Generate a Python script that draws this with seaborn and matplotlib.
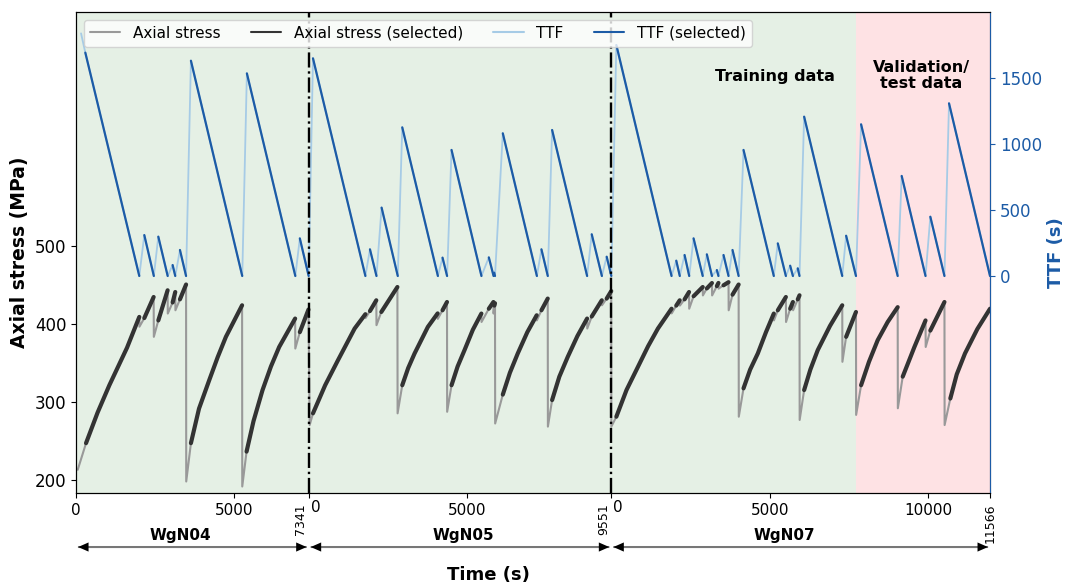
import numpy as np
import pandas as pd
import matplotlib
matplotlib.use('Agg')
import matplotlib.pyplot as plt
import seaborn as sns
from matplotlib.lines import Line2D
from matplotlib.transforms import blended_transform_factory

# Experiments laid end to end on one time axis
experiments = ['WgN04', 'WgN05', 'WgN07']
exp_lengths = [7341, 9551, 11950]
exp_length_labels = ['7341', '9551', '11566']
validation_start = 7720  # local time in WgN07

# Axial stress vertices: time (s), stress (MPa), cycle id (-1 = not selected)
wgn04_stress_t = [53, 315, 680, 1051, 1608, 1996,
                  2001, 2154, 2449,
                  2455, 2596, 2890,
                  2895, 3048, 3131,
                  3136, 3279, 3472,
                  3477, 3625, 3880, 4204, 4470, 4729, 5240,
                  5245, 5381, 5600, 5885, 6150, 6410, 6914,
                  6919, 7062, 7335]
wgn04_stress = [213.7, 247.8, 287, 322, 370, 409.5,
                397, 408, 435,
                384, 405, 443.6,
                413.8, 428, 441.4,
                418, 432, 451,
                198.7, 247.8, 292, 328.6, 358, 384, 424.4,
                192.3, 237, 276, 315.8, 346, 371, 407.4,
                369, 390, 419]
wgn04_stress_cycle = [-1, 0, 0, 0, 0, 0,
                      -1, 1, 1,
                      -1, 2, 2,
                      -1, 3, 3,
                      -1, 4, 4,
                      -1, 5, 5, 5, 5, 5, 5,
                      -1, 6, 6, 6, 6, 6, 6,
                      -1, 7, 7]

wgn05_stress_t = [32, 136, 520, 924, 1450, 1790,
                  1795, 1934, 2134,
                  2140, 2292, 2800,
                  2806, 2953, 3140, 3342, 3761, 4070,
                  4075, 4224, 4365,
                  4370, 4508, 4700, 4918, 5180, 5450,
                  5455, 5685, 5830,
                  5835, 5860, 5880,
                  5885, 6126, 6350, 6598, 6900, 7195,
                  7200, 7345, 7544,
                  7549, 7682, 7910, 8176, 8480, 8786,
                  8791, 8932, 9250,
                  9255, 9404, 9548]
wgn05_stress = [271, 286, 322, 354, 394.6, 413,
                408, 417, 430.8,
                398.9, 415.8, 447.8,
                286, 322, 344, 362.7, 396.7, 414,
                407, 418, 428.6,
                288, 322, 346, 367, 393, 413.8,
                403, 420, 428.6,
                413.8, 424, 427,
                273, 310, 338, 362.7, 390, 411.6,
                405, 418, 433,
                269, 303, 333, 358.4, 385, 407.4,
                394.6, 410, 430.8,
                424.4, 433, 442.6]
wgn05_stress_cycle = [-1, 0, 0, 0, 0, 0,
                      -1, 1, 1,
                      -1, 2, 2,
                      -1, 3, 3, 3, 3, 3,
                      -1, 4, 4,
                      -1, 5, 5, 5, 5, 5,
                      -1, 6, 6,
                      -1, 7, 7,
                      -1, 8, 8, 8, 8, 8,
                      -1, 9, 9,
                      -1, 10, 10, 10, 10, 10,
                      -1, 11, 11,
                      -1, 12, 12]

wgn07_stress_t = [0, 158, 480, 840, 1160, 1470, 1900,
                  1905, 2049, 2158,
                  2163, 2311, 2452,
                  2457, 2595, 2884,
                  2889, 3014, 3175,
                  3180, 3330, 3380,
                  3385, 3540, 3698,
                  3703, 3824, 4017,
                  4022, 4171, 4380, 4622, 4880, 5127,
                  5132, 5253, 5508,
                  5513, 5643, 5730,
                  5735, 5883, 5938,
                  5943, 6084, 6280, 6514, 6900, 7287,
                  7292, 7409, 7720,
                  7725, 7881, 8130, 8405, 8720, 9036,
                  9041, 9195, 9564, 9915,
                  9920, 10066, 10512,
                  10517, 10697, 10900, 11160, 11550, 11950]
wgn07_stress = [269, 281.7, 316, 345.6, 372, 394.6, 420,
                414, 424, 430.8,
                424, 432, 441.4,
                420, 436, 447.8,
                437, 446, 452.9,
                437, 449, 453,
                445.7, 450, 454,
                418, 438, 451,
                281.7, 318, 342, 362.7, 390, 413.8,
                405, 418, 435,
                403, 420, 428.6,
                418, 432, 437.2,
                277.5, 315.8, 342, 367, 398, 424.4,
                352, 384, 415.8,
                284, 322, 352, 379.7, 403, 422,
                292.5, 333, 371, 405,
                371, 392, 428.6,
                271, 305, 336, 362.7, 394, 420]
wgn07_stress_cycle = [-1, 0, 0, 0, 0, 0, 0,
                      -1, 1, 1,
                      -1, 2, 2,
                      -1, 3, 3,
                      -1, 4, 4,
                      -1, 5, 5,
                      -1, 6, 6,
                      -1, 7, 7,
                      -1, 8, 8, 8, 8, 8,
                      -1, 9, 9,
                      -1, 10, 10,
                      -1, 11, 11,
                      -1, 12, 12, 12, 12, 12,
                      -1, 13, 13,
                      -1, 14, 14, 14, 14, 14,
                      -1, 15, 15, 15,
                      -1, 16, 16,
                      -1, 17, 17, 17, 17, 17]

# Time to failure vertices: time (s), TTF (s), cycle id (-1 = not selected)
wgn04_ttf_t = [158, 293, 1996, 2154, 2455, 2596, 2892, 3048, 3131, 3279, 3472, 3625, 5245,
               5391, 6920, 7062, 7341]
wgn04_ttf = [1838, 1692, 0, 310, 0, 298, 0, 83, 0, 197, 0, 1631, 0, 1535, 0, 285, 0]
wgn04_ttf_cycle = [-1, 0, 0, 1, 1, 2, 2, 3, 3, 4, 4, 5, 5, 6, 6, 7, 7]

wgn05_ttf_t = [136, 1790, 1934, 2140, 2301, 2812, 2953, 4078, 4224, 4368, 4508, 5452, 5685, 5835,
               5855, 5880, 6126, 7202, 7345, 7546, 7682, 8787, 8932, 9253, 9404, 9551]
wgn05_ttf = [1649, 0, 202, 0, 518, 0, 1126, 0, 139, 0, 955, 0, 141, 0,
             25, 0, 1081, 0, 202, 0, 1106, 0, 316, 0, 146, 0]
wgn05_ttf_cycle = [0, 0, 1, 1, 2, 2, 3, 3, 4, 4, 5, 5, 6, 6,
                   7, 7, 8, 8, 9, 9, 10, 10, 11, 11, 12, 12]

wgn07_ttf_t = [158, 1900, 2049, 2160, 2311, 2458, 2595, 2884, 3014, 3175, 3330, 3380, 3540, 3698,
               3824, 4017, 4171, 5127, 5253, 5508, 5643, 5730, 5883, 5938, 6084, 7287, 7409,
               7720, 7881, 9036, 9162, 9915, 10066, 10512, 10656, 11950]
wgn07_ttf = [1750, 0, 116, 0, 159, 0, 285, 0, 164, 0, 45, 0, 159, 0,
             197, 0, 955, 0, 247, 0, 78, 0, 58, 0, 1207, 0, 305,
             0, 1149, 0, 758, 0, 449, 0, 1308, 0]
wgn07_ttf_cycle = [0, 0, 1, 1, 2, 2, 3, 3, 4, 4, 5, 5, 6, 6,
                   7, 7, 8, 8, 9, 9, 10, 10, 11, 11, 12, 12, 13,
                   13, 14, 14, 15, 15, 16, 16, 17, 17]

stress_data = [(wgn04_stress_t, wgn04_stress, wgn04_stress_cycle),
               (wgn05_stress_t, wgn05_stress, wgn05_stress_cycle),
               (wgn07_stress_t, wgn07_stress, wgn07_stress_cycle)]
ttf_data = [(wgn04_ttf_t, wgn04_ttf, wgn04_ttf_cycle),
            (wgn05_ttf_t, wgn05_ttf, wgn05_ttf_cycle),
            (wgn07_ttf_t, wgn07_ttf, wgn07_ttf_cycle)]

offsets = np.concatenate([[0], np.cumsum(exp_lengths)[:-1]])
x_end = sum(exp_lengths)


def build_frame(series):
    """Stack the three experiments on a global time axis."""
    frames = []
    for name, offset, (t, v, cyc) in zip(experiments, offsets, series):
        df = pd.DataFrame({'time': np.array(t) + offset, 'value': v, 'cycle': cyc})
        df['unit'] = name + '_' + df['cycle'].astype(str)
        frames.append(df)
    return pd.concat(frames, ignore_index=True)


stress_df = build_frame(stress_data)
ttf_df = build_frame(ttf_data)

c_stress = '#999999'
c_stress_sel = '#333333'
c_ttf = '#a6cbe6'
c_ttf_sel = '#1c5ba6'

sns.set_style('ticks')
plt.rcParams['font.family'] = ['DejaVu Sans']
plt.rcParams.update({'text.color': 'black', 'axes.labelcolor': 'black',
                     'xtick.color': 'black', 'ytick.color': 'black',
                     'axes.edgecolor': 'black'})

fig = plt.figure(figsize=(10.65, 5.83), dpi=100)
ax = fig.add_axes([0.0714, 0.1544, 0.8582, 0.825])
ax2 = ax.twinx()

# Background regions
ax.axvspan(0, offsets[2] + validation_start, color='#e5f0e5', lw=0, zorder=0)
ax.axvspan(offsets[2] + validation_start, x_end, color='#fee2e4', lw=0, zorder=0)

# Axial stress
sns.lineplot(data=stress_df, x='time', y='value', estimator=None, sort=False,
             color=c_stress, lw=1.5, ax=ax, legend=False)
sel = stress_df[stress_df['cycle'] >= 0]
sns.lineplot(data=sel, x='time', y='value', units='unit', estimator=None, sort=False,
             color=c_stress_sel, lw=3.0, ax=ax, legend=False, solid_joinstyle='round')

# TTF
sns.lineplot(data=ttf_df, x='time', y='value', estimator=None, sort=False,
             color=c_ttf, lw=1.3, ax=ax2, legend=False)
sel = ttf_df[ttf_df['cycle'] >= 0]
sns.lineplot(data=sel, x='time', y='value', units='unit', estimator=None, sort=False,
             color=c_ttf_sel, lw=1.6, ax=ax2, legend=False)

# Experiment boundaries
for b in offsets[1:]:
    ax2.axvline(b, color='black', ls='-.', lw=1.7, zorder=4)

ax.set_xlim(0, x_end)
ax.set_ylim(184, 800)
ax2.set_ylim(-1644, 2000)
ax.set_yticks([200, 300, 400, 500])
ax2.set_yticks([0, 500, 1000, 1500])

xt = [0, 5000, offsets[1], offsets[1] + 5000, offsets[2], offsets[2] + 5000,
      offsets[2] + 10000, x_end]
xl = ['0', '5000', '', '5000', '', '5000', '10000', '']
ax.set_xticks(xt)
ax.set_xticklabels(xl)
ax.tick_params(axis='x', labelsize=11)
ax.tick_params(axis='y', labelsize=12)

blue = '#1c5ba6'
ax2.tick_params(axis='y', colors=blue, labelsize=12)
ax2.spines['right'].set_color(blue)

ax.set_xlabel('')
ax.set_ylabel('Axial stress (MPa)', fontsize=13.5, fontweight='bold')
ax2.set_ylabel('TTF (s)', fontsize=13, fontweight='bold', color=blue)

# Special tick labels at the experiment boundaries
trans = blended_transform_factory(ax.transData, ax.transAxes)
for b, lab in zip(offsets[1:], exp_length_labels[:2]):
    ax.text(b - 40, -0.022, lab, transform=trans, rotation=90, ha='right', va='top', fontsize=9)
    ax.text(b + 60, -0.014, '0', transform=trans, ha='left', va='top', fontsize=11)
ax.text(x_end, -0.022, exp_length_labels[2], transform=trans, rotation=90, ha='center',
        va='top', fontsize=9)

# Experiment spans below the axis
ftrans = blended_transform_factory(ax.transData, fig.transFigure)
label_x = [3279, offsets[1] + 4867, offsets[2] + 5448]
for off, length, name, lx in zip(offsets, exp_lengths, experiments, label_x):
    ax.annotate('', xy=(off + length, 0.0617), xytext=(off, 0.0617), xycoords=ftrans,
                textcoords=ftrans, annotation_clip=False,
                arrowprops=dict(arrowstyle='-', color='#777777', lw=1.5, shrinkA=2, shrinkB=2))
    ax.annotate('', xy=(off + length, 0.0617), xytext=(off, 0.0617), xycoords=ftrans,
                textcoords=ftrans, annotation_clip=False,
                arrowprops=dict(arrowstyle='<|-|>,head_length=0.5,head_width=0.22',
                                fc='black', ec='black', lw=0, shrinkA=1.5, shrinkB=1.5,
                                mutation_scale=15))
    ax.text(lx, 0.0815, name, transform=ftrans, ha='center', va='center', fontsize=11,
            fontweight='bold')

fig.text(0.4587, 0.0137, 'Time (s)', ha='center', va='center', fontsize=13, fontweight='bold')

ax2.text(0.765, 0.865, 'Training data', transform=ax2.transAxes, ha='center', va='center',
         fontsize=11.5, fontweight='bold', zorder=6)
ax2.text(0.925, 0.868, 'Validation/\ntest data', transform=ax2.transAxes, ha='center',
         va='center', fontsize=11.5, fontweight='bold', linespacing=1.05, zorder=6)

handles = [Line2D([], [], color=c_stress, lw=1.5),
           Line2D([], [], color=c_stress_sel, lw=1.5),
           Line2D([], [], color=c_ttf, lw=1.5),
           Line2D([], [], color=c_ttf_sel, lw=1.5)]
labels = ['Axial stress', 'Axial stress (selected)', 'TTF', 'TTF (selected)']
ax2.legend(handles, labels, loc='upper left', ncol=4, fontsize=11, framealpha=0.8)

fig.savefig('out.png', dpi=100)
